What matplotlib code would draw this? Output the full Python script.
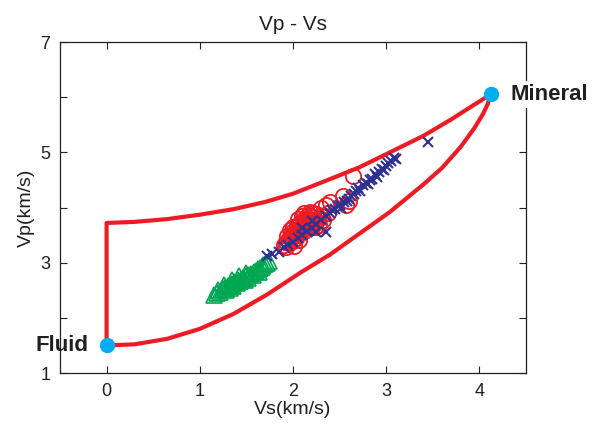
import matplotlib
matplotlib.use('Agg')
import matplotlib.pyplot as plt

plt.rcParams['font.family'] = ['Liberation Sans', 'DejaVu Sans']

# bound curves (Vs, Vp)
upper_vs = [0.0, 0.0, 0.3, 0.65, 1.0, 1.36, 1.7, 2.0, 2.33, 2.7, 3.04, 3.4, 3.7, 3.95, 4.12]
upper_vp = [1.5, 3.72, 3.74, 3.79, 3.87, 3.97, 4.1, 4.25, 4.47, 4.72, 5.0, 5.3, 5.6, 5.87, 6.05]
lower_vs = [0.0, 0.3, 0.65, 1.0, 1.36, 1.72, 2.08, 2.4, 2.69, 3.04, 3.4, 3.6, 3.8, 3.95,
            4.04, 4.09, 4.12]
lower_vp = [1.5, 1.52, 1.62, 1.8, 2.07, 2.42, 2.82, 3.15, 3.5, 3.92, 4.42, 4.72, 5.1, 5.45,
            5.7, 5.88, 6.05]

# end members
fluid = (0.0, 1.5)
mineral = (4.12, 6.05)

# green triangles
green_vs = [1.15, 1.18, 1.2, 1.22, 1.25, 1.27, 1.28, 1.3, 1.32, 1.33, 1.35, 1.36, 1.38,
            1.4, 1.41, 1.43, 1.45, 1.46, 1.48, 1.5, 1.52, 1.53, 1.55, 1.57, 1.58, 1.6,
            1.62, 1.63, 1.65, 1.67, 1.68, 1.7, 1.72, 1.74, 1.26, 1.42, 1.35, 1.5]
green_vp = [2.42, 2.45, 2.5, 2.47, 2.52, 2.55, 2.5, 2.58, 2.55, 2.6, 2.62, 2.58, 2.65,
            2.63, 2.68, 2.66, 2.7, 2.72, 2.68, 2.75, 2.73, 2.78, 2.8, 2.77, 2.83, 2.85,
            2.88, 2.84, 2.9, 2.93, 2.95, 2.97, 3.0, 3.03, 2.6, 2.75, 2.68, 2.82]

# red circles
red_vs = [1.9, 1.92, 1.93, 1.95, 1.96, 1.98, 2.0, 2.0, 2.02, 2.03, 2.05, 2.05, 2.07,
          2.08, 2.1, 2.1, 2.12, 2.13, 2.15, 2.15, 2.17, 2.18, 2.2, 2.2, 2.22, 2.23,
          2.25, 2.25, 2.27, 2.28, 2.1, 2.05, 2.12, 2.18, 2.3, 2.32, 2.35, 2.3, 2.4,
          2.38, 2.54, 2.6, 2.57, 2.64, 1.97, 2.0, 1.94, 1.99, 2.04, 2.08, 2.14, 2.19,
          2.24, 2.16, 2.11, 2.06, 2.01, 2.21]
red_vp = [3.32, 3.38, 3.28, 3.42, 3.35, 3.45, 3.4, 3.5, 3.55, 3.45, 3.6, 3.5, 3.62,
          3.55, 3.65, 3.7, 3.58, 3.75, 3.68, 3.8, 3.72, 3.85, 3.78, 3.65, 3.82, 3.7,
          3.88, 3.75, 3.8, 3.68, 3.85, 3.8, 3.9, 3.92, 3.85, 3.78, 4.05, 4.0, 4.1,
          3.9, 4.2, 4.12, 4.05, 4.57, 3.6, 3.65, 3.48, 3.55, 3.66, 3.72, 3.62, 3.7,
          3.64, 3.86, 3.78, 3.42, 3.3, 3.9]

# blue crosses
blue_vs = [1.72, 1.78, 1.85, 1.9, 1.95, 2.0, 2.05, 2.1, 2.15, 2.2, 2.25, 2.3, 2.35,
           2.35, 2.4, 2.42, 2.45, 2.48, 2.5, 2.52, 2.55, 2.58, 2.6, 2.62, 2.65, 2.68,
           2.7, 2.72, 2.75, 2.78, 2.8, 2.83, 2.85, 2.88, 2.9, 2.92, 2.95, 2.98, 3.0,
           3.02, 3.05, 3.08, 3.1, 3.45, 2.2, 2.1, 2.25]
blue_vp = [3.12, 3.15, 3.2, 3.28, 3.32, 3.38, 3.45, 3.5, 3.58, 3.62, 3.7, 3.78, 3.56,
           3.85, 3.9, 3.95, 3.98, 4.02, 4.05, 4.0, 4.1, 4.12, 4.15, 4.2, 4.25, 4.3,
           4.35, 4.3, 4.4, 4.45, 4.42, 4.5, 4.52, 4.6, 4.55, 4.65, 4.7, 4.68, 4.75,
           4.8, 4.85, 4.9, 4.88, 5.18, 3.75, 3.62, 3.55]

fig = plt.figure(figsize=(5.94, 4.29), dpi=100)
ax = fig.add_axes([0.101, 0.1305, 0.7845, 0.7715])

ax.plot(upper_vs, upper_vp, color='#ED1C24', lw=3, solid_capstyle='round',
        solid_joinstyle='round', zorder=2)
ax.plot(lower_vs, lower_vp, color='#ED1C24', lw=3, solid_capstyle='round',
        solid_joinstyle='round', zorder=2)

ax.plot(green_vs, green_vp, '^', ms=11, mfc='none', mec='#00A651', mew=1.2, zorder=3)
ax.plot(red_vs, red_vp, 'o', ms=11, mfc='none', mec='#ED1C24', mew=1.3, zorder=3)
ax.plot(blue_vs, blue_vp, 'x', ms=7.5, color='#2E3192', mew=1.5, zorder=4)

ax.plot([fluid[0], mineral[0]], [fluid[1], mineral[1]], 'o', ms=10,
        color='#00AEEF', zorder=5, clip_on=False)

ax.text(-0.19, fluid[1], 'Fluid', ha='right', va='center', fontsize=16,
        fontweight='bold', color='#231F20', zorder=10)
ax.text(4.33, mineral[1], 'Mineral', ha='left', va='center', fontsize=16,
        fontweight='bold', color='#231F20', zorder=10, clip_on=False,
        bbox=dict(facecolor='white', edgecolor='none', pad=2))

ax.set_xlim(-0.5, 4.5)
ax.set_ylim(1, 7)
ax.set_xticks([0, 1, 2, 3, 4])
ax.set_yticks([1, 2, 3, 4, 5, 6, 7])
ax.set_yticklabels(['1', '', '3', '', '5', '', '7'])
ax.tick_params(direction='in', top=True, right=True, length=5, width=0.8,
               labelsize=13, colors='#231F20', pad=7)
for s in ax.spines.values():
    s.set_linewidth(0.9)
    s.set_color('#231F20')

ax.set_xlabel('Vs(km/s)', fontsize=14, color='#231F20', labelpad=1)
ax.set_ylabel('Vp(km/s)', fontsize=14, color='#231F20', labelpad=4)
ax.set_title('Vp - Vs', fontsize=15, color='#231F20', pad=9)

fig.savefig('out.png', dpi=100)
